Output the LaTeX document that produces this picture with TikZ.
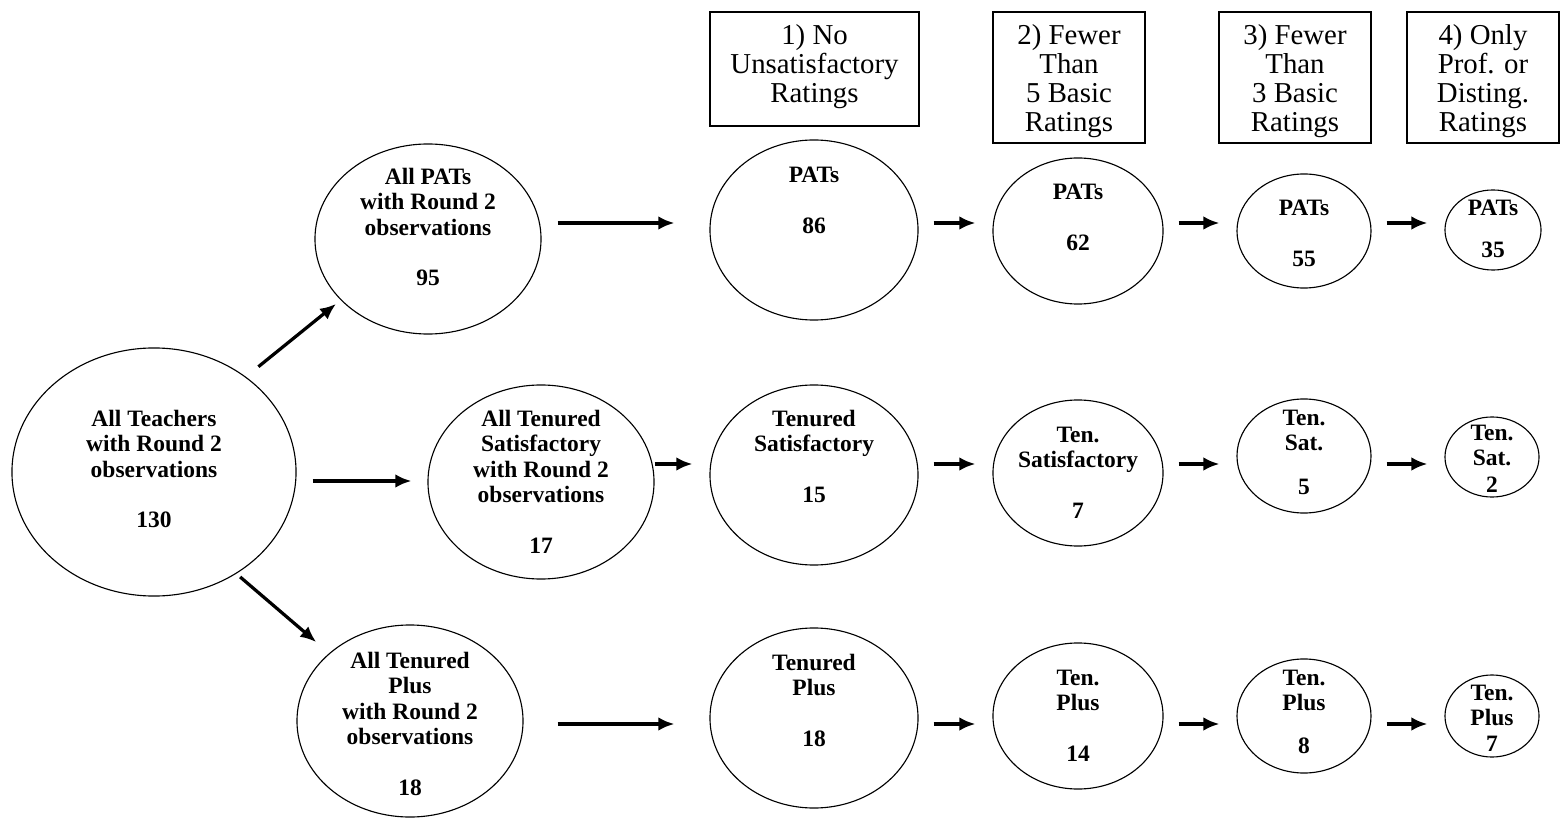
\documentclass[tikz,border=0pt]{standalone}
\usepackage{fontspec}
\setmainfont{Liberation Serif}
\usetikzlibrary{shapes,arrows.meta,calc,positioning}

\begin{document}
\begin{tikzpicture}[x=0.025cm,y=-0.025cm,
  oval/.style 2 args={ellipse,draw,line width=0.8pt,inner sep=0pt,minimum width=#1*0.05cm,minimum height=#2*0.05cm},
  lbl/.style={anchor=north,align=center,inner sep=0pt,font=\fontsize{16.7}{18}\selectfont\bfseries},
  hdr/.style={draw,line width=0.8pt,inner sep=0pt,minimum width=152*0.025cm,minimum height=131*0.025cm},
  hdrtxt/.style={anchor=north,align=center,inner sep=0pt,font=\fontsize{20.5}{20.6}\selectfont},
  arr/.style={line width=2.3pt,-{Latex[length=0.4cm,width=0.34cm]}},
  arrgap/.style 2 args={shorten <=#1*0.025cm,shorten >=#2*0.025cm}]

\useasboundingbox (0,0) rectangle (1560,820);

% filter headers
\node[hdr,minimum width=209*0.025cm,minimum height=114*0.025cm] (h1) at (814.5,69) {};
\node[hdrtxt] (h1t) at (814.5,24) {1) No\\Unsatisfactory\\Ratings};
\node[hdr] (h2) at (1069,77.5) {};
\node[hdrtxt] (h2t) at (1069,24) {2) Fewer\\Than\\5 Basic\\Ratings};
\node[hdr] (h3) at (1295,77.5) {};
\node[hdrtxt] (h3t) at (1295,24) {3) Fewer\\Than\\3 Basic\\Ratings};
\node[hdr] (h4) at (1483,77.5) {};
\node[hdrtxt] (h4t) at (1483,24) {4) Only\\Prof. or\\Disting.\\Ratings};

% all teachers
\node[oval={142}{124}] (allT) at (154,472) {};
\node[lbl] (allTt) at (154,410) {All Teachers\\with Round 2\\observations\\[18pt]130};
%
\node[oval={113}{95}] (pats0) at (428,239) {};
\node[lbl] (pats0t) at (428,168) {All PATs\\with Round 2\\observations\\[18pt]95};
\node[oval={113}{97}] (sat0) at (541,482) {};
\node[lbl] (sat0t) at (541,410) {All Tenured\\Satisfactory\\with Round 2\\observations\\[18pt]17};
\node[oval={113}{96}] (plus0) at (410,721) {};
\node[lbl] (plus0t) at (410,652) {All Tenured\\Plus\\with Round 2\\observations\\[18pt]18};

% 1) no unsatisfactory
\node[oval={104}{90}] (pats1) at (814,230) {};
\node[lbl] (pats1t) at (814,167) {PATs\\[18pt]86};
\node[oval={104}{90}] (sat1) at (814,475) {};
\node[lbl] (sat1t) at (814,410) {Tenured\\Satisfactory\\[18pt]15};
\node[oval={104}{90}] (plus1) at (814,718) {};
\node[lbl] (plus1t) at (814,654) {Tenured\\Plus\\[18pt]18};

% 2) fewer than 5 basic
\node[oval={85}{73}] (pats2) at (1078,231) {};
\node[lbl] (pats2t) at (1078,184) {PATs\\[18pt]62};
\node[oval={85}{73}] (sat2) at (1078,473) {};
\node[lbl] (sat2t) at (1078,427) {Ten.\\Satisfactory\\[18pt]7};
\node[oval={85}{73}] (plus2) at (1078,716) {};
\node[lbl] (plus2t) at (1078,670) {Ten.\\Plus\\[18pt]14};

% 3) fewer than 3 basic
\node[oval={67}{57}] (pats3) at (1304,231) {};
\node[lbl] (pats3t) at (1304,200) {PATs\\[18pt]55};
\node[oval={67}{57}] (sat3) at (1304,456) {};
\node[lbl] (sat3t) at (1304,410) {Ten.\\Sat.\\[13pt]5};
\node[oval={67}{57}] (plus3) at (1304,716) {};
\node[lbl] (plus3t) at (1304,670) {Ten.\\Plus\\[12pt]8};

% 4) only prof. or disting.
\node[oval={48}{40}] (pats4) at (1493,230) {};
\node[lbl] (pats4t) at (1493,200) {PATs\\[11.6pt]35};
\node[oval={47}{40}] (sat4) at (1492,457) {};
\node[lbl] (sat4t) at (1492,425) {Ten.\\Sat.\\[1pt]2};
\node[oval={47}{41}] (plus4) at (1492,716) {};
\node[lbl] (plus4t) at (1492,685) {Ten.\\Plus\\7};

% arrow rows
\coordinate (r1) at (0,223);
\coordinate (r2) at (0,464);
\coordinate (r3) at (0,724);
\coordinate (rm) at (0,481);

\draw[arr,arrgap={16}{6}] (allT.46) -- (pats0.215);
\draw[arr,arrgap={16}{16}] (allT.east |- rm) -- (sat0.west |- rm);
\draw[arr,arrgap={5}{17}] (allT.-51) -- (plus0.140);
%
\draw[arr,arrgap={16}{35}] (pats0.east |- r1) -- (pats1.west |- r1);
\draw[arr,arrgap={15}{17}] (pats1.east |- r1) -- (pats2.west |- r1);
\draw[arr,arrgap={15}{17}] (pats2.east |- r1) -- (pats3.west |- r1);
\draw[arr,arrgap={15}{17}] (pats3.east |- r1) -- (pats4.west |- r1);
%
\draw[arr,arrgap={0}{17}] (sat0.east |- r2) -- (sat1.west |- r2);
\draw[arr,arrgap={15}{17}] (sat1.east |- r2) -- (sat2.west |- r2);
\draw[arr,arrgap={15}{17}] (sat2.east |- r2) -- (sat3.west |- r2);
\draw[arr,arrgap={15}{17}] (sat3.east |- r2) -- (sat4.west |- r2);
%
\draw[arr,arrgap={34}{35}] (plus0.east |- r3) -- (plus1.west |- r3);
\draw[arr,arrgap={15}{17}] (plus1.east |- r3) -- (plus2.west |- r3);
\draw[arr,arrgap={15}{17}] (plus2.east |- r3) -- (plus3.west |- r3);
\draw[arr,arrgap={15}{17}] (plus3.east |- r3) -- (plus4.west |- r3);

\end{tikzpicture}
\end{document}
